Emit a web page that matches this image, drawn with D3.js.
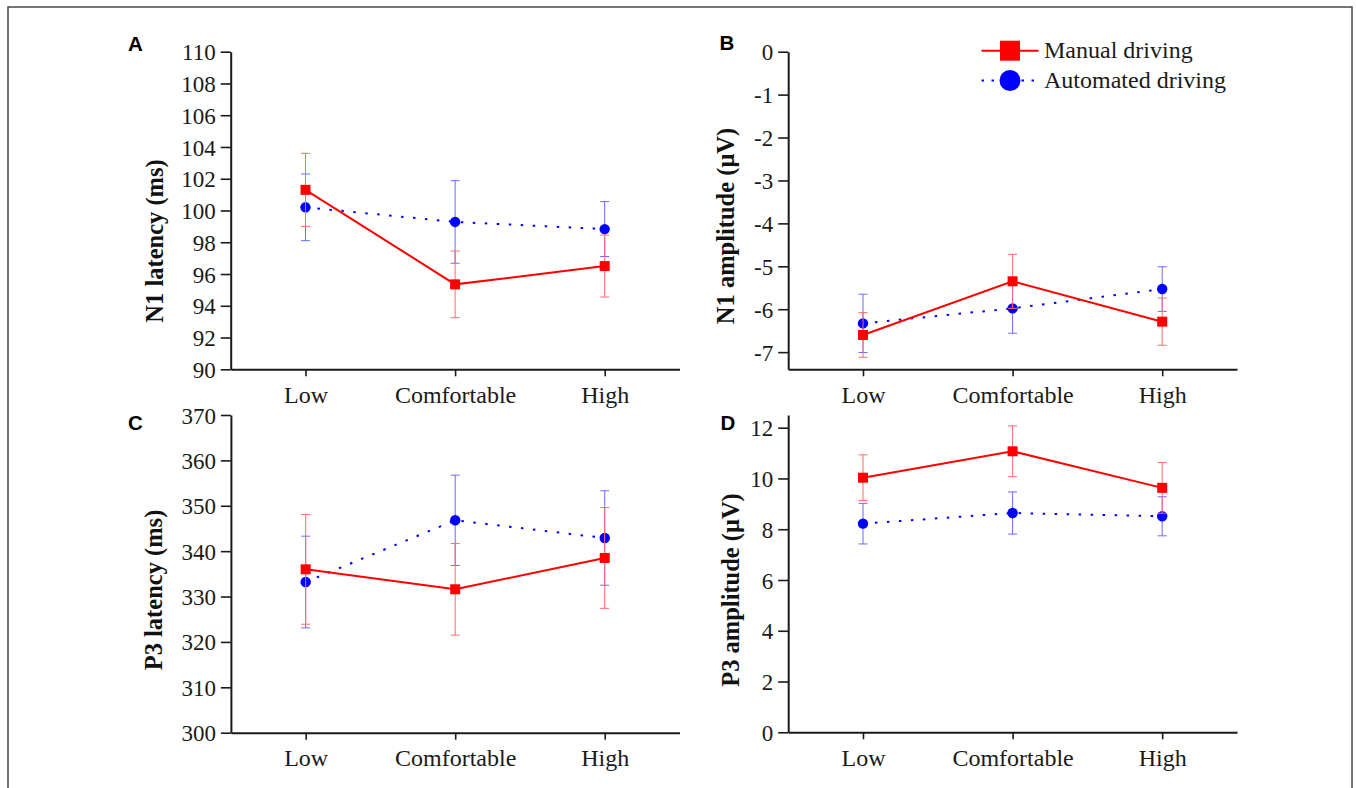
<!DOCTYPE html>
<html>
<head>
<meta charset="utf-8">
<script src="https://cdn.jsdelivr.net/npm/d3@7"></script>
<style>
  body { margin: 0; background: #fff; }
  svg { display: block; }
</style>
</head>
<body>
<svg width="1356" height="788"></svg>
<script>
// categories shared by all four panels
var categories = ["Low", "Comfortable", "High"];
var seriesNames = ["Manual driving", "Automated driving"];

// A - N1 latency (ms)
var n1LatManual = [101.3, 95.35, 96.5];
var n1LatManualErr = [2.3, 2.1, 1.95];
var n1LatAuto = [100.2, 99.28, 98.83];
var n1LatAutoErr = [2.1, 2.6, 1.73];
var n1LatTicks = [90, 92, 94, 96, 98, 100, 102, 104, 106, 108, 110];

// B - N1 amplitude (uV)
var n1AmpManual = [-6.6, -5.35, -6.29];
var n1AmpManualErr = [0.52, 0.63, 0.55];
var n1AmpAuto = [-6.33, -5.98, -5.53];
var n1AmpAutoErr = [0.68, 0.58, 0.52];
var n1AmpTicks = [-7, -6, -5, -4, -3, -2, -1, 0];

// C - P3 latency (ms)
var p3LatManual = [336.0, 331.6, 338.5];
var p3LatManualErr = [12.1, 10.1, 11.1];
var p3LatAuto = [333.2, 346.8, 342.9];
var p3LatAutoErr = [10.1, 9.95, 10.4];
var p3LatTicks = [300, 310, 320, 330, 340, 350, 360, 370];

// D - P3 amplitude (uV)
var p3AmpManual = [10.03, 11.07, 9.63];
var p3AmpManualErr = [0.9, 1.0, 1.0];
var p3AmpAuto = [8.22, 8.64, 8.51];
var p3AmpAutoErr = [0.8, 0.83, 0.77];
var p3AmpTicks = [0, 2, 4, 6, 8, 10, 12];

var serif = "'Liberation Serif', 'Times New Roman', serif";
var sans = "'Liberation Sans', Arial, sans-serif";
var red = "#ff0000", blue = "#0000ff";

var panels = [
  { letter: "A", title: "N1 latency (ms)", manual: n1LatManual, manualErr: n1LatManualErr,
    auto: n1LatAuto, autoErr: n1LatAutoErr, ticks: n1LatTicks, domain: [90, 110],
    left: 230.7, right: 679.5, top: 51.7, bottom: 369.3, letterX: 128, letterY: 50.7,
    titleX: 163, titleY: 241 },
  { letter: "B", title: "N1 amplitude (\u03bcV)", manual: n1AmpManual, manualErr: n1AmpManualErr,
    auto: n1AmpAuto, autoErr: n1AmpAutoErr, ticks: n1AmpTicks, domain: [-7.4, 0],
    left: 788.2, right: 1237, top: 51.7, bottom: 369.3, letterX: 719.5, letterY: 50,
    titleX: 734, titleY: 226 },
  { letter: "C", title: "P3 latency (ms)", manual: p3LatManual, manualErr: p3LatManualErr,
    auto: p3LatAuto, autoErr: p3LatAutoErr, ticks: p3LatTicks, domain: [300, 370],
    left: 230.9, right: 679.5, top: 415, bottom: 732.7, letterX: 128, letterY: 430,
    titleX: 162, titleY: 590 },
  { letter: "D", title: "P3 amplitude (\u03bcV)", manual: p3AmpManual, manualErr: p3AmpManualErr,
    auto: p3AmpAuto, autoErr: p3AmpAutoErr, ticks: p3AmpTicks, domain: [0, 12.5],
    left: 788.2, right: 1237, top: 415, bottom: 732.3, letterX: 720.5, letterY: 430,
    titleX: 739, titleY: 590 }
];

var svg = d3.select("svg");

// outer frame
svg.append("rect")
  .attr("x", 8).attr("y", 7)
  .attr("width", 1344).attr("height", 820)
  .attr("fill", "none")
  .attr("stroke", "#4a4a4a")
  .attr("stroke-width", 1.5);

var drawSeries = function(g, x, y, values, errs, color, errColor, kind){
  var pts = values.map(function(v, i){ return { c: categories[i], v: v, e: errs[i] }; });

  // error bars
  var eb = g.append("g");
  pts.forEach(function(p){
    var cx = x(p.c);
    eb.append("line")
      .attr("x1", cx).attr("x2", cx)
      .attr("y1", y(p.v - p.e)).attr("y2", y(p.v + p.e))
      .attr("stroke", errColor).attr("stroke-width", 1);
    [p.v - p.e, p.v + p.e].forEach(function(val){
      eb.append("line")
        .attr("x1", cx - 4.5).attr("x2", cx + 4.5)
        .attr("y1", y(val)).attr("y2", y(val))
        .attr("stroke", errColor).attr("stroke-width", 1);
    });
  });

  var line = d3.line()
    .x(function(p){ return x(p.c); })
    .y(function(p){ return y(p.v); });

  var path = g.append("path")
    .datum(pts)
    .attr("d", line)
    .attr("fill", "none")
    .attr("stroke", color)
    .attr("stroke-width", 2);
  if (kind === "circle") {
    path.attr("stroke-dasharray", "2.5,9.5");
  }

  if (kind === "square") {
    g.selectAll(null).data(pts).enter().append("rect")
      .attr("x", function(p){ return x(p.c) - 5; })
      .attr("y", function(p){ return y(p.v) - 5; })
      .attr("width", 10).attr("height", 10)
      .attr("fill", color);
  } else {
    g.selectAll(null).data(pts).enter().append("circle")
      .attr("cx", function(p){ return x(p.c); })
      .attr("cy", function(p){ return y(p.v); })
      .attr("r", 5.2)
      .attr("fill", color);
  }
};

panels.forEach(function(pn){
  var x = d3.scalePoint().domain(categories).range([pn.left, pn.right]).padding(0.5);
  var y = d3.scaleLinear().domain(pn.domain).range([pn.bottom, pn.top]);

  var g = svg.append("g");

  var yAxis = g.append("g")
    .attr("transform", "translate(" + pn.left + ",0)")
    .call(d3.axisLeft(y).tickValues(pn.ticks).tickSize(10).tickSizeOuter(0).tickPadding(5)
      .tickFormat(function(d){ return String(d); }));
  var xAxis = g.append("g")
    .attr("transform", "translate(0," + pn.bottom + ")")
    .call(d3.axisBottom(x).tickSize(7).tickSizeOuter(0).tickPadding(9));

  [yAxis, xAxis].forEach(function(ax){
    ax.select(".domain").attr("stroke", "#1a1a1a").attr("stroke-width", 2);
    ax.selectAll(".tick line").attr("stroke", "#1a1a1a").attr("stroke-width", 1.6);
    ax.selectAll("text").attr("fill", "#1a1a1a").style("font-family", serif);
  });
  yAxis.selectAll("text").style("font-size", "23px").attr("dy", "0.35em");
  xAxis.selectAll("text").style("font-size", "24px").attr("dy", "0.74em");

  // axis title
  g.append("text")
    .attr("transform", "translate(" + pn.titleX + "," + pn.titleY + ") rotate(-90)")
    .attr("text-anchor", "middle")
    .style("font-family", serif)
    .style("font-weight", "bold")
    .style("font-size", "24.5px")
    .attr("fill", "#111")
    .text(pn.title);

  // panel letter
  g.append("text")
    .attr("x", pn.letterX).attr("y", pn.letterY)
    .style("font-family", sans)
    .style("font-weight", "bold")
    .style("font-size", "20.5px")
    .attr("fill", "#000")
    .text(pn.letter);

  drawSeries(g, x, y, pn.auto, pn.autoErr, blue, "#6b6bff", "circle");
  drawSeries(g, x, y, pn.manual, pn.manualErr, red, "#ff6b6b", "square");
});

// legend
var legend = svg.append("g");
var legendRows = [
  { name: seriesNames[0], color: red, kind: "square", y: 50.7 },
  { name: seriesNames[1], color: blue, kind: "circle", y: 80.5 }
];
legendRows.forEach(function(r){
  var ln = legend.append("line")
    .attr("x1", 981.5).attr("x2", 1038.5)
    .attr("y1", r.y).attr("y2", r.y)
    .attr("stroke", r.color).attr("stroke-width", 2);
  if (r.kind === "square") {
    legend.append("rect")
      .attr("x", 1000).attr("y", r.y - 10)
      .attr("width", 20).attr("height", 20)
      .attr("fill", r.color);
  } else {
    ln.attr("stroke-dasharray", "2.5,7.5");
    legend.append("circle")
      .attr("cx", 1010).attr("cy", r.y)
      .attr("r", 10.5)
      .attr("fill", r.color);
  }
  legend.append("text")
    .attr("x", 1044).attr("y", r.y + 7.5)
    .style("font-family", serif)
    .style("font-size", "24px")
    .attr("fill", "#1a1a1a")
    .text(r.name);
});
</script>
</body>
</html>
